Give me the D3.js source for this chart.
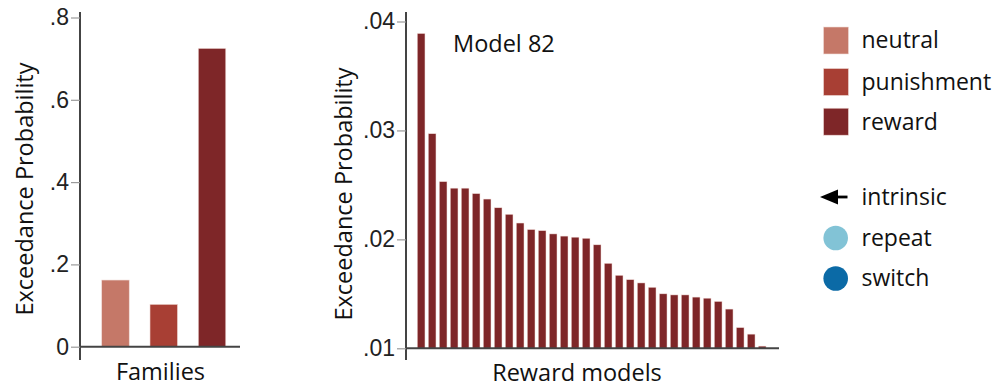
<!DOCTYPE html>
<html>
<head>
<meta charset="utf-8">
<script src="https://cdn.jsdelivr.net/npm/d3@7"></script>
<style>
  html, body { margin: 0; padding: 0; background: #fff; }
  svg { display: block; }
  .tick-label { font-family: "Liberation Sans", Arial, sans-serif; font-size: 23px; fill: #222; }
  .title { font-family: "Open Sans", "Noto Sans", sans-serif; font-size: 23.5px; fill: #111; }
  .legend-text { font-family: "Open Sans", "Noto Sans", sans-serif; font-size: 23px; fill: #111; }
</style>
</head>
<body>
<svg id="chart" width="994" height="387"></svg>
<script>
// Family-level exceedance probabilities
const families = ["neutral", "punishment", "reward"];
const familyValues = [0.162, 0.103, 0.725];
const familyColors = ["#c57868", "#a83f34", "#7e2628"];
const familyTicks = [0, 0.2, 0.4, 0.6, 0.8];
const familyTickLabels = ["0", ".2", ".4", ".6", ".8"];

// Exceedance probabilities of the individual reward models, sorted
const rewardModels = d3.range(1, 33).map(i => "R" + i);
const rewardValues = [
  0.0389, 0.0297, 0.0253, 0.0247, 0.0247, 0.0242, 0.0237, 0.0229,
  0.0223, 0.0215, 0.0209, 0.0208, 0.0205, 0.0203, 0.0202, 0.0201,
  0.0195, 0.0178, 0.0167, 0.0163, 0.0160, 0.0156, 0.0150, 0.0149,
  0.0149, 0.0147, 0.0146, 0.0143, 0.0136, 0.0119, 0.0113, 0.0102
];
const rewardTicks = [0.01, 0.02, 0.03, 0.04];
const rewardTickLabels = [".01", ".02", ".03", ".04"];

// Legend entries
const inputNames = ["intrinsic", "repeat", "switch"];
const inputColors = ["#000000", "#82c3d6", "#0b6aa6"];

const svg = d3.select("#chart");
const axisColor = "#444";
const tickColor = "#9a9a9a";

function drawYAxis(g, x, y, ticks, labels, top, bottom) {
  g.append("line")
    .attr("x1", x).attr("x2", x).attr("y1", top).attr("y2", bottom)
    .attr("stroke", axisColor).attr("stroke-width", 2);
  const axis = d3.axisLeft(y).tickValues(ticks)
    .tickFormat((d, i) => labels[i]).tickSize(9).tickPadding(2);
  const a = g.append("g").attr("transform", `translate(${x},0)`).call(axis);
  a.select(".domain").remove();
  a.selectAll(".tick line").attr("stroke", tickColor).attr("stroke-width", 1.2);
  a.selectAll(".tick text").attr("class", "tick-label").attr("fill", null)
    .attr("font-size", null).attr("font-family", null);
}

// ---- Left panel: families ----
const left = svg.append("g");
const yF = d3.scaleLinear().domain([0, 0.8]).range([346.7, 17.5]);
const xF = d3.scaleBand().domain(families).range([88, 239.5])
  .paddingInner(0.43).paddingOuter(0.284);

left.selectAll("rect.fam").data(families).join("rect")
  .attr("class", "fam")
  .attr("x", d => xF(d))
  .attr("width", xF.bandwidth())
  .attr("y", (d, i) => yF(familyValues[i]))
  .attr("height", (d, i) => yF(0) - yF(familyValues[i]))
  .attr("fill", (d, i) => familyColors[i])
  .attr("stroke", "#f1dcd8").attr("stroke-width", 0.6);

drawYAxis(left, 80, yF, familyTicks, familyTickLabels, 12, 360);
left.append("line")
  .attr("x1", 80).attr("x2", 240).attr("y1", yF(0)).attr("y2", yF(0))
  .attr("stroke", axisColor).attr("stroke-width", 2);

left.append("text").attr("class", "title")
  .attr("transform", "translate(33,189) rotate(-90)")
  .attr("text-anchor", "middle").text("Exceedance Probability");
left.append("text").attr("class", "title")
  .attr("x", 160.5).attr("y", 380).attr("text-anchor", "middle").text("Families");

// ---- Right panel: reward models ----
const right = svg.append("g");
const yR = d3.scaleLinear().domain([0.01, 0.04]).range([348.3, 21.5]);
const xR = d3.scaleBand().domain(rewardModels).range([406, 777.3])
  .paddingInner(0.3).paddingOuter(1.025);

right.selectAll("rect.rm").data(rewardModels).join("rect")
  .attr("class", "rm")
  .attr("x", d => xR(d))
  .attr("width", xR.bandwidth())
  .attr("y", (d, i) => yR(rewardValues[i]))
  .attr("height", (d, i) => yR(0.01) - yR(rewardValues[i]))
  .attr("fill", familyColors[2])
  .attr("stroke", "#f1dcd8").attr("stroke-width", 0.5);

drawYAxis(right, 406, yR, rewardTicks, rewardTickLabels, 12, 360);
right.append("line")
  .attr("x1", 406).attr("x2", 779).attr("y1", yR(0.01)).attr("y2", yR(0.01))
  .attr("stroke", axisColor).attr("stroke-width", 2);

right.append("text").attr("class", "title")
  .attr("transform", "translate(352,194) rotate(-90)")
  .attr("text-anchor", "middle").text("Exceedance Probability");
right.append("text").attr("class", "title")
  .attr("x", 577).attr("y", 381).attr("text-anchor", "middle").text("Reward models");
right.append("text").attr("class", "title")
  .attr("x", 453).attr("y", 52).text("Model 82");

// ---- Legend ----
const legend = svg.append("g");
const famRows = d3.scaleOrdinal().domain(families).range([40.5, 82, 121.7]);
families.forEach((f, i) => {
  const cy = famRows(f);
  legend.append("rect")
    .attr("x", 823.5).attr("y", cy - 13.5).attr("width", 25).attr("height", 27)
    .attr("fill", familyColors[i]).attr("stroke", "#f1dcd8").attr("stroke-width", 0.6);
  legend.append("text").attr("class", "legend-text")
    .attr("x", 861.5).attr("y", cy + 7.8).text(f);
});

const inRows = d3.scaleOrdinal().domain(inputNames).range([197, 238, 278.5]);
// intrinsic: arrow pointing left
{
  const cy = inRows("intrinsic");
  legend.append("line")
    .attr("x1", 834).attr("x2", 847.5).attr("y1", cy).attr("y2", cy)
    .attr("stroke", inputColors[0]).attr("stroke-width", 2.8);
  legend.append("path")
    .attr("d", `M820,${cy} L838,${cy - 7.5} L838,${cy + 7.5} Z`)
    .attr("fill", inputColors[0]);
}
["repeat", "switch"].forEach(n => {
  legend.append("circle")
    .attr("cx", 835.7).attr("cy", inRows(n)).attr("r", 12.3)
    .attr("fill", inputColors[inputNames.indexOf(n)]);
});
inputNames.forEach(n => {
  legend.append("text").attr("class", "legend-text")
    .attr("x", 861.5).attr("y", inRows(n) + 7.8).text(n);
});
</script>
</body>
</html>
